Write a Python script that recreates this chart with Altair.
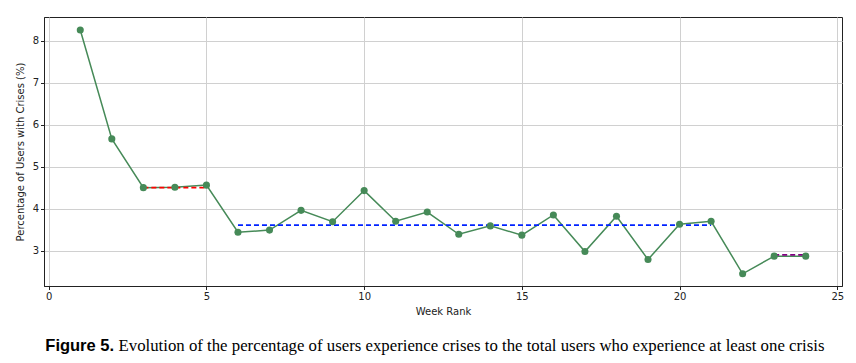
import altair as alt
import pandas as pd

weeks = list(range(1, 25))
pct = [8.25, 5.66, 4.50, 4.51, 4.56, 3.44, 3.49, 3.96, 3.69, 4.43, 3.70, 3.92,
       3.39, 3.59, 3.37, 3.85, 2.98, 3.82, 2.79, 3.63, 3.70, 2.45, 2.87, 2.87]

seg_start = [3, 6, 23]
seg_end = [5, 21, 24]
seg_value = [4.50, 3.61, 2.90]
seg_color = ["#ff0000", "#0022ff", "#800080"]

caption_bold = "Figure 5."
caption_rest = ("Evolution of the percentage of users experience crises to the total "
                "users who experience at least one crisis")

df = pd.DataFrame({"week": weeks, "pct": pct})
seg = pd.DataFrame({"x1": seg_start, "x2": seg_end, "y": seg_value, "c": seg_color})

xs = alt.Scale(domain=[-0.15, 25.15], nice=False, zero=False)
ys = alt.Scale(domain=[2.16, 8.56], nice=False, zero=False)

xaxis = alt.Axis(values=[0, 5, 10, 15, 20, 25], title="Week Rank", grid=True,
                 titlePadding=5)
yaxis = alt.Axis(values=[3, 4, 5, 6, 7, 8], title="Percentage of Users with Crises (%)",
                 grid=True, titlePadding=7)

green = "#468a58"

base = alt.Chart(df)
line = base.mark_line(color=green, strokeWidth=1.5).encode(
    x=alt.X("week:Q", scale=xs, axis=xaxis),
    y=alt.Y("pct:Q", scale=ys, axis=yaxis),
)
pts = base.mark_circle(color=green, size=50, opacity=1).encode(
    x=alt.X("week:Q", scale=xs),
    y=alt.Y("pct:Q", scale=ys),
)
rules = alt.Chart(seg).mark_rule(strokeDash=[5, 3], strokeWidth=1.8).encode(
    x=alt.X("x1:Q", scale=xs),
    x2="x2:Q",
    y=alt.Y("y:Q", scale=ys),
    color=alt.Color("c:N", scale=None),
)

cap1 = alt.Chart(pd.DataFrame({"t": [caption_bold]})).mark_text(
    font="Liberation Sans", fontWeight="bold", fontSize=16.5, align="left",
    baseline="middle", color="black"
).encode(text="t:N", x=alt.value(1.3), y=alt.value(329))
cap2 = alt.Chart(pd.DataFrame({"t": [caption_rest]})).mark_text(
    font="Liberation Serif", fontSize=16.8, align="left",
    baseline="middle", color="black"
).encode(text="t:N", x=alt.value(74.5), y=alt.value(329))

chart = alt.layer(line, rules, pts, cap1, cap2).properties(
    width=798, height=269,
    autosize=alt.AutoSizeParams(type="none"),
    padding={"left": 36, "top": 9, "right": 6, "bottom": 69},
).configure_view(
    stroke="#222222", strokeWidth=1
).configure_axis(
    labelFont="DejaVu Sans", labelFontSize=10, labelColor="#222222",
    titleFont="DejaVu Sans", titleFontSize=10, titleFontWeight="normal",
    titleColor="#222222",
    tickColor="#222222", tickSize=3.5, labelPadding=2,
    domainColor="#222222", gridColor="#d0d0d0", gridWidth=1,
)

chart.save("out.html", embed_options={"renderer": "svg", "actions": False})
